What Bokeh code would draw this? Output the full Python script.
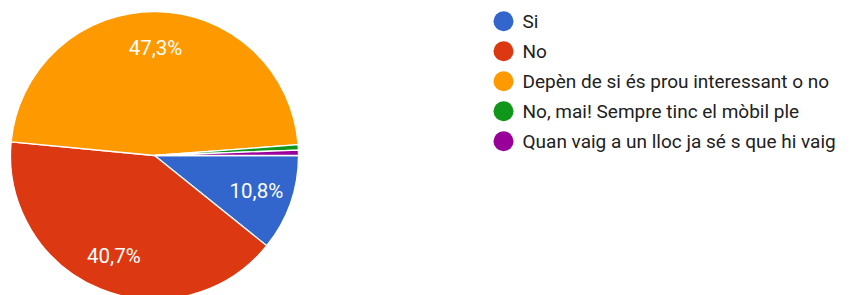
import math
from bokeh.plotting import figure
from bokeh.models import Range1d, ColumnDataSource
from bokeh.core.properties import value
from bokeh.embed import file_html
from bokeh.resources import INLINE

categories = ["Si", "No", "Depèn de si és prou interessant o no",
              "No, mai! Sempre tinc el mòbil ple",
              "Quan vaig a un lloc ja sé s que hi vaig"]
counts = [18, 68, 79, 1, 1]
colors = ["#3366cc", "#dc3912", "#ff9900", "#109618", "#990099"]

W, H = 849, 295
OFF = 0
TOTAL_H = 295

def Y(sy):
    return TOTAL_H - sy

p = figure(width=W, height=H, output_backend="svg", toolbar_location=None,
           x_range=Range1d(OFF, OFF + W), y_range=Range1d(Y(OFF + H), Y(OFF)),
           min_border=0, outline_line_color=None)
p.axis.visible = False
p.grid.visible = False
p.background_fill_color = "white"

cx, cy, R = 154, Y(155), 144
total = sum(counts)
fracs = [c / total for c in counts]
starts, ends = [], []
cum = 0.0
for f in fracs:
    starts.append(-(cum + f) * 2 * math.pi)
    ends.append(-cum * 2 * math.pi)
    cum += f

src = ColumnDataSource(dict(start=starts, end=ends, color=colors))
p.wedge(x=cx, y=cy, radius=R, start_angle="start", end_angle="end",
        fill_color="color", line_color="white", line_width=1.3, source=src)

# slice labels
lx, ly, lt = [], [], []
cum = 0.0
for f in fracs:
    if f > 0.05:
        mid = -(cum + f / 2) * 2 * math.pi
        lx.append(cx + 0.75 * R * math.cos(mid))
        ly.append(cy + 0.75 * R * math.sin(mid))
        lt.append(("%.1f%%" % (f * 100)).replace(".", ","))
    cum += f
p.text(x=lx, y=ly, text=lt, text_color="white", text_font=value("Roboto"),
       text_font_size="20.5px", text_align="center", text_baseline="middle")

# legend
leg_y = [Y(20.7 + 30 * i) for i in range(len(categories))]
p.scatter(x=[503] * len(categories), y=leg_y, size=20, marker="circle",
          fill_color=colors, line_color=None)
p.text(x=[522] * len(categories), y=leg_y, text=categories, text_color="#212121",
       text_font=value("Roboto"), text_font_size="19px", text_align="left",
       text_baseline="middle")

open("out.html", "w").write(file_html(p, INLINE))
